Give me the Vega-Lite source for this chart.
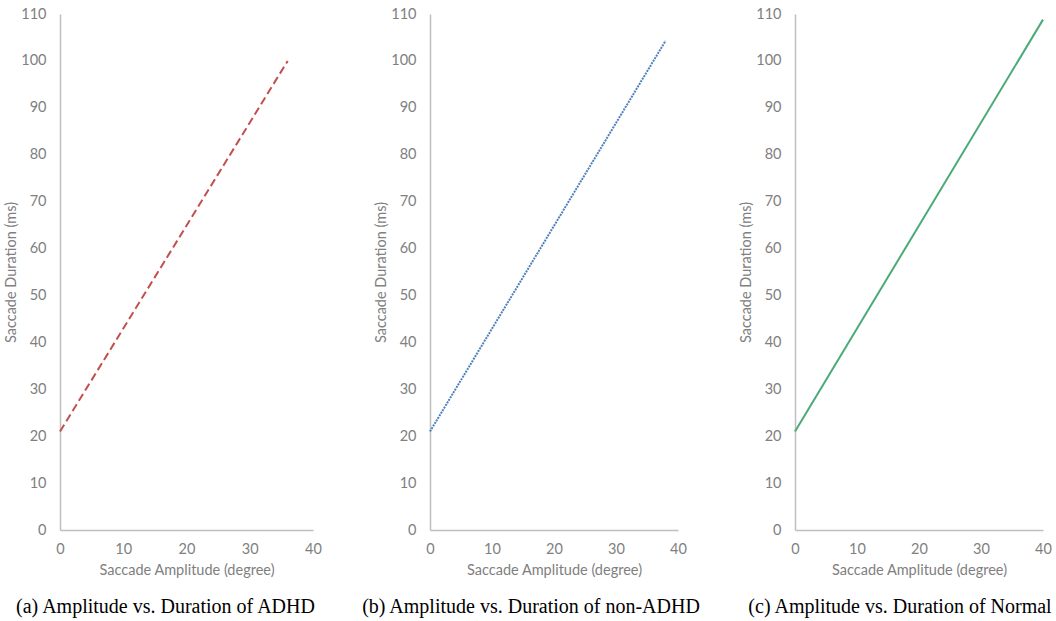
{
  "$schema": "https://vega.github.io/schema/vega-lite/v6.json",
  "background": "white",
  "padding": {"left": 3, "top": 6, "right": 5, "bottom": 2},
  "datasets": {
    "adhd": [{"amplitude": 0, "duration": 21}, {"amplitude": 36, "duration": 100}],
    "nonadhd": [{"amplitude": 0, "duration": 21}, {"amplitude": 38, "duration": 104.3}],
    "normal": [{"amplitude": 0, "duration": 21}, {"amplitude": 40, "duration": 108.8}]
  },
  "config": {
    "view": {"stroke": null},
    "axis": {
      "domainColor": "#bfbfbf",
      "domainWidth": 1.5,
      "ticks": false,
      "tickSize": 0,
      "grid": false,
      "labelColor": "#808080",
      "labelFont": "Lato",
      "labelFontSize": 14.5,
      "labelFlush": false,
      "titleColor": "#808080",
      "titleFont": "Lato",
      "titleFontSize": 14.5,
      "titleFontWeight": "normal"
    },
    "axisY": {"labelPadding": 14, "titlePadding": 2},
    "axisX": {"labelPadding": 12, "titlePadding": 8},
    "title": {"font": "Liberation Serif", "fontSize": 20, "fontWeight": "normal", "color": "#000000", "orient": "bottom", "offset": 20}
  },
  "bounds": "flush",
  "spacing": 117,
  "hconcat": [
    {
      "width": 253,
      "height": 516,
      "title": {"text": "(a) Amplitude vs. Duration of ADHD", "dx": -21},
      "data": {"name": "adhd"},
      "mark": {"type": "line", "color": "#c0504d", "strokeWidth": 2, "strokeDash": [8, 4]},
      "encoding": {
        "x": {"field": "amplitude", "type": "quantitative", "title": "Saccade Amplitude (degree)", "scale": {"domain": [0, 40], "nice": false}, "axis": {"values": [0, 10, 20, 30, 40]}},
        "y": {"field": "duration", "type": "quantitative", "title": "Saccade Duration (ms)", "scale": {"domain": [0, 110], "nice": false}, "axis": {"values": [0, 10, 20, 30, 40, 50, 60, 70, 80, 90, 100, 110]}}
      }
    },
    {
      "width": 248,
      "height": 516,
      "title": {"text": "(b) Amplitude vs. Duration of non-ADHD", "dx": -23},
      "data": {"name": "nonadhd"},
      "mark": {"type": "line", "color": "#4f81bd", "strokeWidth": 2, "strokeDash": [2, 1]},
      "encoding": {
        "x": {"field": "amplitude", "type": "quantitative", "title": "Saccade Amplitude (degree)", "scale": {"domain": [0, 40], "nice": false}, "axis": {"values": [0, 10, 20, 30, 40]}},
        "y": {"field": "duration", "type": "quantitative", "title": "Saccade Duration (ms)", "scale": {"domain": [0, 110], "nice": false}, "axis": {"values": [0, 10, 20, 30, 40, 50, 60, 70, 80, 90, 100, 110]}}
      }
    },
    {
      "width": 248,
      "height": 516,
      "title": {"text": "(c) Amplitude vs. Duration of Normal", "dx": -19},
      "data": {"name": "normal"},
      "mark": {"type": "line", "color": "#4aab78", "strokeWidth": 2},
      "encoding": {
        "x": {"field": "amplitude", "type": "quantitative", "title": "Saccade Amplitude (degree)", "scale": {"domain": [0, 40], "nice": false}, "axis": {"values": [0, 10, 20, 30, 40]}},
        "y": {"field": "duration", "type": "quantitative", "title": "Saccade Duration (ms)", "scale": {"domain": [0, 110], "nice": false}, "axis": {"values": [0, 10, 20, 30, 40, 50, 60, 70, 80, 90, 100, 110]}}
      }
    }
  ]
}
